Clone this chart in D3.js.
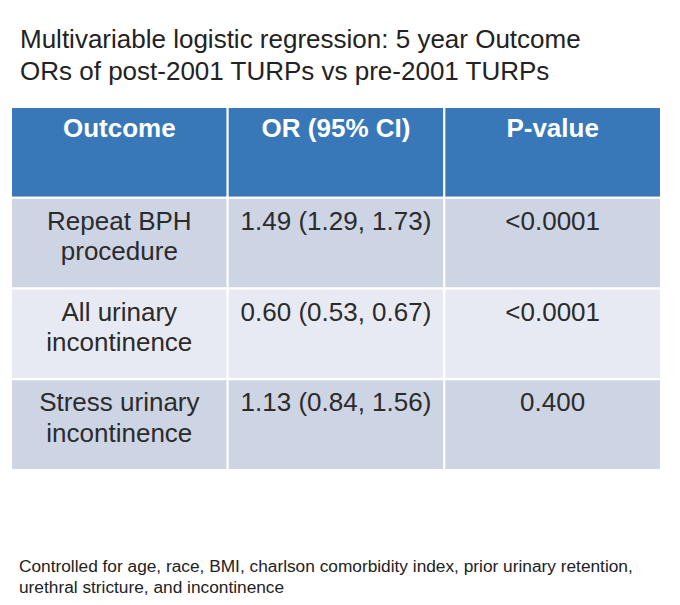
<!DOCTYPE html>
<html>
<head>
<meta charset="utf-8">
<script src="https://cdn.jsdelivr.net/npm/d3@7"></script>
<style>
  body { margin: 0; background: #fff; }
  svg { font-family: "Liberation Sans", Arial, Helvetica, sans-serif; }
</style>
</head>
<body>
<div id="chart"></div>
<script>
// table content
const titleLines = ["Multivariable logistic regression: 5 year Outcome",
                    "ORs of post-2001 TURPs vs pre-2001 TURPs"];
const headers = ["Outcome", "OR (95% CI)", "P-value"];
const outcomes = [["Repeat BPH", "procedure"],
                  ["All urinary", "incontinence"],
                  ["Stress urinary", "incontinence"]];
const orValues = ["1.49 (1.29, 1.73)", "0.60 (0.53, 0.67)", "1.13 (0.84, 1.56)"];
const pValues = ["<0.0001", "<0.0001", "0.400"];
const footnoteLines = ["Controlled for age, race, BMI, charlson comorbidity index, prior urinary retention,",
                       "urethral stricture, and incontinence"];

const width = 680, height = 605;

const svg = d3.select("#chart").append("svg")
    .attr("width", width)
    .attr("height", height);

// title
svg.append("g").selectAll("text")
    .data(titleLines)
    .enter()
    .append("text")
    .attr("x", 20)
    .attr("y", (d, i) => 48 + i * 32)
    .attr("fill", "#222")
    .attr("font-size", 26)
    .text(d => d);

// scales for the grid
const rowKeys = ["header"].concat(d3.range(outcomes.length));
const xScale = d3.scaleBand().domain(d3.range(headers.length)).range([11, 661]);
const yScale = d3.scaleBand().domain(rowKeys).range([107, 470]);

// build the cells row by row
const rows = rowKeys.map((k, i) => {
    if (k === "header") return headers.map(h => [h]);
    return [outcomes[k], [orValues[k]], [pValues[k]]];
});

const rowG = svg.append("g").selectAll("g")
    .data(rows)
    .enter()
    .append("g")
    .attr("transform", (d, i) => "translate(0," + yScale(rowKeys[i]) + ")");

const cell = rowG.selectAll("g")
    .data((d, i) => d.map((lines, j) => ({lines: lines, row: i, col: j})))
    .enter()
    .append("g")
    .attr("transform", d => "translate(" + xScale(d.col) + ",0)");

cell.append("rect")
    .attr("width", xScale.bandwidth())
    .attr("height", yScale.bandwidth())
    .attr("fill", d => d.row === 0 ? "#3878b8" : (d.row % 2 === 1 ? "#cdd4e4" : "#e8eaf3"))
    .attr("stroke", "#fff")
    .attr("stroke-width", 2);

// one text element per line of the cell
cell.selectAll("text")
    .data(d => d.lines.map((t, k) => ({t: t, k: k, row: d.row})))
    .enter()
    .append("text")
    .attr("x", xScale.bandwidth() / 2)
    .attr("y", d => (d.row === 0 ? 30 : 32) + d.k * 30.5)
    .attr("text-anchor", "middle")
    .attr("font-size", 26)
    .attr("font-weight", d => d.row === 0 ? "bold" : "normal")
    .attr("fill", d => d.row === 0 ? "#fff" : "#2b2b2b")
    .text(d => d.t);

// footnote
svg.append("g").selectAll("text")
    .data(footnoteLines)
    .enter()
    .append("text")
    .attr("x", 19)
    .attr("y", (d, i) => 572 + i * 21)
    .attr("fill", "#222")
    .attr("font-size", 17.3)
    .text(d => d);
</script>
</body>
</html>
